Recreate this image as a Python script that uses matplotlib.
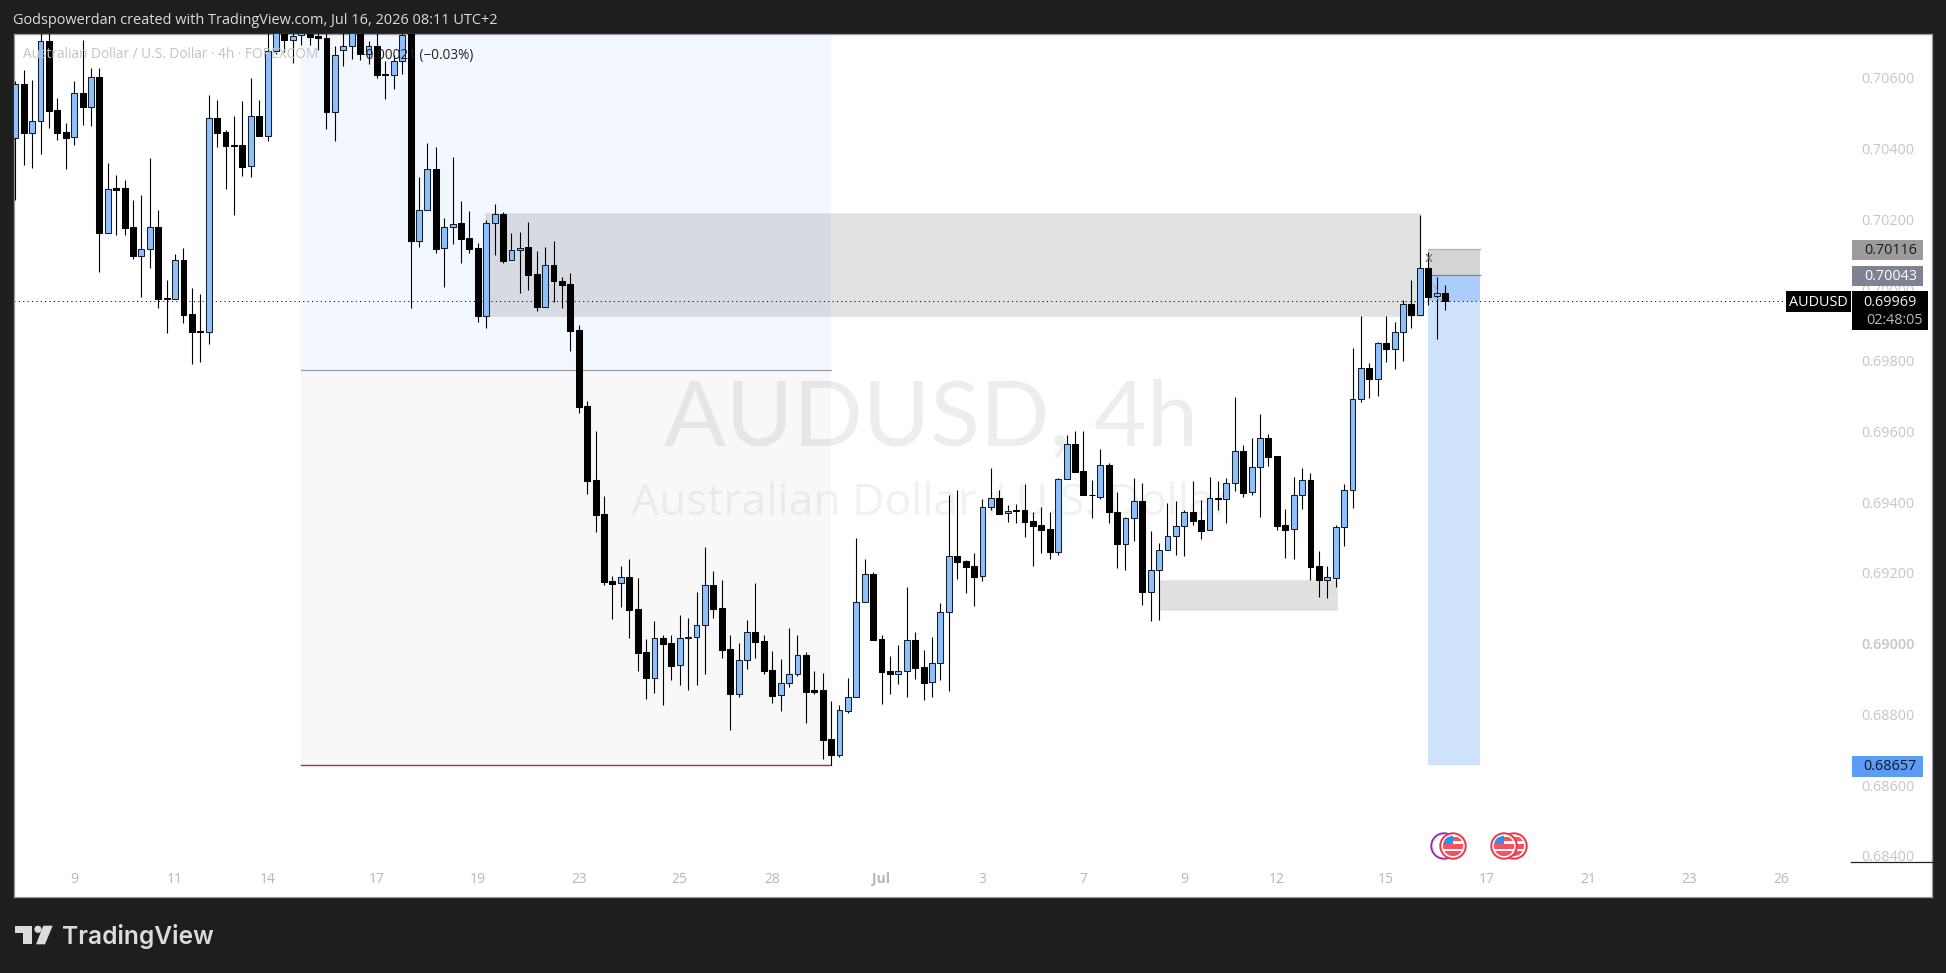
import numpy as np
import matplotlib
matplotlib.use("Agg")
import matplotlib.pyplot as plt
from matplotlib.patches import Rectangle, Circle, Polygon
from matplotlib.transforms import Affine2D

# Prices in units of 0.00001
open_pts = [70429,70581,70445,70477,70703,70508,70446,70432,70556,70518,70601,70160,70287,70287,70177,70097,70115,70177,69976,69975,70084,69931,69883,69882,70485,70446,70409,70409,70350,70491,70436,70675,70735,70708,70720,70740,70718,70712,70504,70678,70691,70740,70666,70690,70610,70609,70646,70763,70139,70225,70341,70118,70179,70188,70146,70118,69925,70188,70215,70084,70112,70121,70044,69953,70070,70025,70016,69886,69671,69462,69366,69177,69171,69188,69097,68976,68904,69015,69001,68939,69017,69018,69052,69165,69100,68984,68859,68953,69032,69007,68925,68854,68888,68913,68967,68868,68868,68730,68686,68811,68848,69117,69196,69012,68922,68915,68922,69010,68933,68891,68945,69089,69247,69233,69219,69191,69386,69411,69369,69378,69377,69346,69335,69323,69260,69465,69564,69487,69421,69416,69504,69372,69283,69355,69403,69147,69208,69264,69304,69332,69372,69349,69321,69411,69408,69453,69544,69428,69499,69581,69530,69335,69323,69420,69462,69219,69181,69187,69329,69434,69691,69779,69747,69849,69834,69880,69960,69930,70061,69982,69991]
high_pts = [70591,70622,70594,70740,70735,70542,70471,70591,70707,70627,70627,70358,70325,70310,70254,70268,70372,70226,70028,70101,70118,70005,69989,70551,70537,70452,70492,70534,70598,70537,70740,70790,70763,70763,70763,70763,70730,70730,70691,70726,70763,70763,70703,70726,70647,70664,70744,70773,70319,70415,70404,70203,70376,70252,70223,70132,70198,70243,70220,70161,70164,70192,70110,70122,70139,70037,70048,69901,69686,69601,69418,69192,69220,69240,69185,69012,69064,69025,69025,69080,69073,69146,69274,69206,69180,69025,69002,69067,69172,69025,68980,68957,69044,69025,68976,68923,68917,68838,68827,68903,69299,69240,69203,69025,68965,68996,69160,69033,68982,69019,69115,69421,69435,69237,69256,69409,69496,69434,69391,69395,69452,69371,69386,69372,69469,69590,69600,69601,69463,69550,69511,69429,69358,69469,69454,69319,69284,69398,69404,69377,69460,69406,69471,69460,69469,69698,69562,69582,69650,69593,69530,69381,69471,69497,69483,69262,69220,69335,69452,69836,69927,69794,69853,69927,69910,69972,70028,70212,70107,70036,70014]
low_pts = [70254,70353,70346,70384,70458,70424,70342,70410,70466,70464,70052,70160,70156,70156,70087,69981,70063,69950,69877,69975,69908,69792,69797,69848,70405,70286,70212,70322,70318,70436,70422,70667,70674,70643,70693,70693,70679,70456,70422,70634,70653,70650,70639,70600,70540,70569,70611,69950,70122,70225,70105,70009,70131,70076,70105,69910,69893,70099,70076,70084,69992,70000,69941,69953,69966,69949,69828,69652,69423,69316,69166,69071,69105,69017,68924,68844,68862,68828,68898,68882,68869,68884,68913,69073,68960,68756,68850,68929,68960,68915,68833,68810,68879,68910,68776,68858,68674,68656,68680,68804,68848,69117,69011,68830,68858,68886,68849,68900,68841,68849,68898,68867,69184,69144,69108,69178,69379,69368,69345,69341,69302,69221,69257,69240,69251,69465,69486,69419,69354,69410,69340,69215,69207,69291,69110,69065,69068,69264,69251,69248,69336,69296,69321,69378,69340,69432,69416,69419,69359,69503,69322,69242,69240,69382,69180,69133,69130,69159,69277,69385,69684,69696,69699,69797,69777,69799,69893,69930,69958,69862,69942]
close_pts = [70581,70445,70477,70703,70507,70445,70431,70556,70518,70601,70160,70285,70284,70176,70097,70115,70177,69975,69975,70084,69930,69882,69882,70485,70445,70408,70408,70349,70491,70436,70675,70763,70708,70719,70740,70716,70711,70504,70664,70691,70740,70666,70689,70609,70609,70646,70721,70139,70225,70341,70117,70179,70187,70145,70117,69925,70188,70214,70082,70112,70120,70043,69953,70070,70024,70015,69885,69670,69461,69365,69175,69170,69188,69096,68975,68904,69015,69000,68938,69015,69019,69052,69165,69099,68983,68859,68953,69032,69006,68923,68853,68888,68913,68967,68864,68864,68729,68686,68812,68848,69117,69196,69011,68921,68915,68922,69010,68932,68890,68945,69089,69247,69232,69218,69190,69386,69411,69368,69376,69376,69345,69334,69322,69260,69465,69564,69486,69419,69419,69504,69371,69283,69355,69403,69147,69208,69264,69304,69332,69372,69348,69320,69411,69410,69453,69544,69427,69499,69581,69529,69334,69322,69420,69462,69218,69181,69188,69329,69434,69691,69779,69747,69849,69834,69880,69960,69930,70061,69981,69991,69969]

y_ticks = [0.706,0.704,0.702,0.700,0.698,0.696,0.694,0.692,0.690,0.688,0.686,0.684]
x_tick_bars = [7,19,30,43,55,67,79,90,103,115,127,139,150,163,175,187,199,210]
x_tick_labels = ["9","11","14","17","19","23","25","28","Jul","3","7","9","12","15","17","21","23","26"]

last_price = 0.69969
stop_price = 0.70116
entry_price = 0.70043
target_price = 0.68657

W, H = 1946, 973
FONT = "Open Sans"
plt.rcParams["font.family"] = [FONT, "DejaVu Sans"]
BG = "#1e1e1e"

fig = plt.figure(figsize=(W/100, H/100), dpi=100, facecolor=BG)
L_, R_, T_, B_ = 13.6, 1932, 33.5, 897
ax = fig.add_axes([L_/W, 1-B_/H, (R_-L_)/W, (B_-T_)/H])
ax.set_facecolor("white")
ax.set_xlim(-0.2, 227.9)
ax.set_ylim(0.68284, 0.70725)
ax.set_axisbelow(True)
for s in ax.spines.values():
    s.set_color("#9a9a9a")
    s.set_linewidth(0.9)

px = Affine2D().scale(1/W, -1/H).translate(0, 1) + fig.transFigure

O = np.array(open_pts)/1e5
Hi = np.array(high_pts)/1e5
Lo = np.array(low_pts)/1e5
C = np.array(close_pts)/1e5
x = np.arange(len(O))
up = C >= O

# zones
ax.add_patch(Rectangle((34, 0.69774), 63, 0.02, fc="#f3f7ff", ec="none", zorder=1))
ax.add_patch(Rectangle((34, 0.68656), 63, 0.69774-0.68656, fc="#f8f8f8", ec="none", zorder=1))
ax.plot([34, 97], [0.69774, 0.69774], color="#a0a2a6", lw=0.9, zorder=1.2)
ax.plot([34, 97], [0.68656, 0.68656], color="#b0245c", lw=1.0, zorder=1.2)

# watermark
def ax_xy(xp, yp):
    return (xp-L_)/(R_-L_), 1-(yp-T_)/(B_-T_)

wx, wy = ax_xy(931, 420)
ax.text(wx, wy, "AUDUSD, 4h", transform=ax.transAxes, fontsize=66, family="Lato", color="#000000", alpha=0.07,
        ha="center", va="center", zorder=1.5)
wx, wy = ax_xy(931, 504)
ax.text(wx, wy, "Australian Dollar / U.S. Dollar", transform=ax.transAxes, fontsize=32,
        color="#000000", alpha=0.055, ha="center", va="center", zorder=1.5)

# legend (drawn over the candles)
tx, ty = ax_xy(23, 55)
ax.text(tx, ty, "Australian Dollar / U.S. Dollar · 4h · FOREXCOM", transform=ax.transAxes,
        fontsize=9.8, color="#bfc2cb", ha="left", va="center", zorder=4)
tx, ty = ax_xy(473, 55)
ax.text(tx, ty, "−0.00021 (−0.03%)", transform=ax.transAxes,
        fontsize=9.8, color="#222222", ha="right", va="center", zorder=4)

# gray supply/demand zones
ax.add_patch(Rectangle((55.85, 0.69927), 167-55.85, 0.70218-0.69927, fc=(0,0,0,0.115), ec=(0,0,0,0.03), lw=0.9, zorder=2))
ax.add_patch(Rectangle((136.1, 0.69096), 157.1-136.1, 0.69179-0.69096, fc=(0,0,0,0.12), ec=(0,0,0,0.03), lw=0.9, zorder=2))

# position tool
ax.add_patch(Rectangle((168, entry_price), 6.2, stop_price-entry_price, fc="#d4d4d4", ec="none", zorder=2))
ax.add_patch(Rectangle((168, target_price), 6.2, entry_price-target_price, fc="#cfe2fb", ec="none", zorder=2))
ax.add_patch(Rectangle((168, last_price), 6.2, entry_price-last_price, fc="#accdfb", ec="none", zorder=2.1))
ax.plot([168, 174.2], [entry_price, entry_price], color="#808080", lw=0.9, zorder=2.2)
ax.plot([168, 174.2], [stop_price, stop_price], color="#b5b5b5", lw=0.9, zorder=2.2)

# current price line
ax.plot([-0.2, 210.5], [last_price, last_price], color="#000000", lw=0.75, ls=(0, (1, 3.2)), zorder=2.5)

# candles
ax.vlines(x, Lo, Hi, color="#000000", lw=0.8, zorder=3)
ax.bar(x[up], (C-O)[up], bottom=O[up], width=0.7, color="#90bff9", edgecolor="#10202f", linewidth=0.75, zorder=3.2)
ax.bar(x[~up], (O-C)[~up], bottom=C[~up], width=0.7, color="#000000", edgecolor="#000000", linewidth=0.75, zorder=3.2)

# ticks
ax.yaxis.tick_right()
ax.set_yticks(y_ticks)
ax.set_yticklabels([f"{v:.5f}" for v in y_ticks])
ax.tick_params(axis="y", length=0, pad=-12.5, labelsize=10.4, labelcolor="#c4c6cd")
for lab, v in zip(ax.get_yticklabels(), y_ticks):
    lab.set_ha("right")
    if abs(v-0.69) < 1e-9:
        lab.set_fontweight("semibold")
ax.set_xticks(x_tick_bars)
ax.set_xticklabels(x_tick_labels)
ax.tick_params(axis="x", length=0, pad=-18, labelsize=10, labelcolor="#b4b7c0")
for lab, s in zip(ax.get_xticklabels(), x_tick_labels):
    if s == "Jul":
        lab.set_fontweight("bold")

# short rule at bottom right of the price scale
fig.add_artist(plt.Line2D([1851, 1932], [862, 862], color="#222222", lw=0.9, transform=px, zorder=5))

def box(x0, y0, x1, y1, fc, z=6):
    fig.add_artist(Rectangle((x0, y0), x1-x0, y1-y0, fc=fc, ec="none", transform=px, zorder=z))

def label(xp, yp, s, color, size=10.4, ha="right", z=7, **kw):
    fig.text(xp/W, 1-yp/H, s, color=color, fontsize=size, ha=ha, va="center", zorder=z, **kw)

box(1852, 240, 1922.5, 260, "#9b9b9b")
label(1917, 251, f"{stop_price:.5f}", "#1c1c1c")
box(1852, 266, 1922.5, 286, "#7f8290")
label(1917, 277, f"{entry_price:.5f}", "#ffffff")
box(1852, 291, 1928, 330, "#000000")
label(1917, 302, f"{last_price:.5f}", "#f0f0f0")
label(1923, 321, "02:48:05", "#b8b8b8")
box(1786, 291, 1850.7, 311.5, "#000000")
label(1818, 302, "AUDUSD", "#ffffff", ha="center")
box(1852, 755.5, 1923, 776.5, "#5b9cf6")
label(1917, 767, f"{target_price:.5f}", "#131722")

# X marker + small gray arrows of the position tool
label(1429, 258.5, "x", "#666666", size=11, ha="center")
fig.add_artist(plt.Line2D([1433, 1437], [284, 291], color="#aab2bd", lw=1, transform=px, zorder=5))
fig.add_artist(plt.Line2D([1435, 1441], [298, 300], color="#aab2bd", lw=1, transform=px, zorder=5))

# event flags
def flag(cx, cy, r, ring, z):
    fig.add_artist(Circle((cx, cy), r, fc="white", ec=ring, lw=1.4, transform=px, zorder=z))
    clip = Circle((cx, cy), r-2.6, transform=px)
    for (a, b, c, d, col) in [(-12, -9, 24, 4, "#f7525f"), (-12, -2, 24, 4.5, "#f7525f"), (-12, 5, 24, 4.5, "#f7525f"), (-12, -12, 12, 10, "#2f8fef")]:
        r_ = Rectangle((cx+a, cy+b), c, d, fc=col, ec="none", transform=px, zorder=z+0.01)
        fig.add_artist(r_)
        r_.set_clip_path(clip)

fig.add_artist(Circle((1444, 846), 12.7, fc="white", ec="#9c27b0", lw=1.4, transform=px, zorder=5))
flag(1453, 846, 12.7, "#f23645", 5.1)
flag(1514, 846, 12.7, "#f23645", 5.2)
flag(1504, 846, 12.7, "#f23645", 5.3)

# header and footer
fig.text(13/W, 1-20.5/H, "Godspowerdan created with TradingView.com, Jul 16, 2026 08:11 UTC+2", color="#dcdcdc",
         fontsize=10.48, ha="left", va="center")
logo_c = "#dcdcdc"
fig.add_artist(Polygon([(15, 925.7), (31.7, 925.7), (31.7, 944.3), (22.7, 944.3), (22.7, 932.5), (15, 932.5)], fc=logo_c, ec="none", transform=px))
fig.add_artist(Circle((38, 929.3), 3.6, fc=logo_c, ec="none", transform=px))
fig.add_artist(Polygon([(43.3, 925.7), (52.7, 925.7), (45, 944.3), (36, 944.3)], fc=logo_c, ec="none", transform=px))
fig.text(62/W, 1-944/H, "TradingView", color=logo_c, fontsize=17.7, family="Inter", weight="semibold", ha="left", va="baseline")

fig.savefig("out.png", dpi=100, facecolor=BG)
